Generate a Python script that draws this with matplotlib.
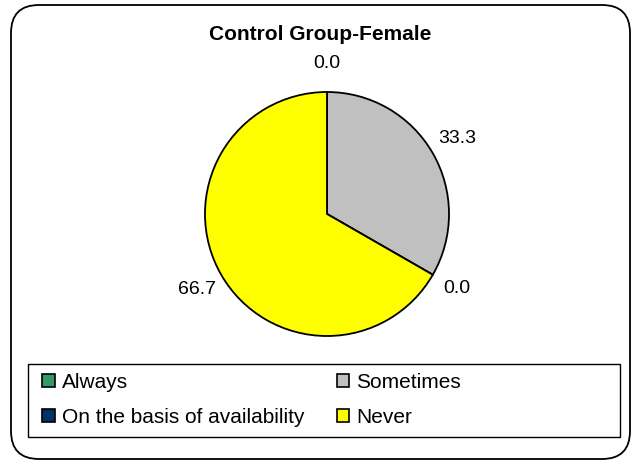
import matplotlib
matplotlib.use("Agg")
import matplotlib.pyplot as plt
from matplotlib.patches import FancyBboxPatch, Rectangle, Patch
from matplotlib.transforms import IdentityTransform

plt.rcParams['font.family'] = ['Liberation Sans', 'DejaVu Sans']

title = "Control Group-Female"
categories = ["Always", "Sometimes", "On the basis of availability", "Never"]
values = [0.0, 33.3, 0.0, 66.7]
colors = ["#339966", "#C0C0C0", "#003366", "#FFFF00"]

W, H = 637, 461
fig = plt.figure(figsize=(W / 100, H / 100), dpi=100)

# outer rounded border (pixel coordinates, origin bottom-left)
fig.patches.append(FancyBboxPatch((11, H - 459), 619, 454,
                                  boxstyle="round,pad=0,rounding_size=28",
                                  transform=IdentityTransform(), fill=False,
                                  edgecolor="black", linewidth=1.3))

R = 122
cx, cy = 327, H - 214
half = 1.5 * R
ax = fig.add_axes([(cx - half) / W, (cy - half) / H, 2 * half / W, 2 * half / H])
wedges, texts = ax.pie(values, colors=colors, startangle=90, counterclock=False,
                       labels=[f"{v:.1f}" for v in values], labeldistance=1.23,
                       wedgeprops=dict(edgecolor="black", linewidth=1.3),
                       textprops=dict(fontsize=14))
for t in texts:
    t.set_ha("center")
    t.set_va("center")
ax.set_xlim(-1.5, 1.5)
ax.set_ylim(-1.5, 1.5)
ax.set_aspect("equal")
ax.axis("off")

fig.text(320 / W, (H - 35) / H, title, ha="center", va="center",
         fontsize=15, fontweight="bold")

# legend box
fig.patches.append(Rectangle((28 / W, (H - 437) / H), 592 / W, 73 / H,
                             transform=fig.transFigure, fill=False,
                             edgecolor="black", linewidth=1.0))
order = [0, 2, 1, 3]
handles = [Patch(facecolor=colors[i], edgecolor="black", linewidth=1.2) for i in order]
labels = [categories[i] for i in order]
fig.legend(handles, labels, ncol=2, loc="upper left",
           bbox_to_anchor=(40 / W, (H - 371) / H), frameon=False,
           fontsize=15, handlelength=0.6, handleheight=0.6, handletextpad=0.35,
           columnspacing=1.55, labelspacing=0.77, borderpad=0.1, borderaxespad=0)

fig.savefig("out.png", dpi=100)
